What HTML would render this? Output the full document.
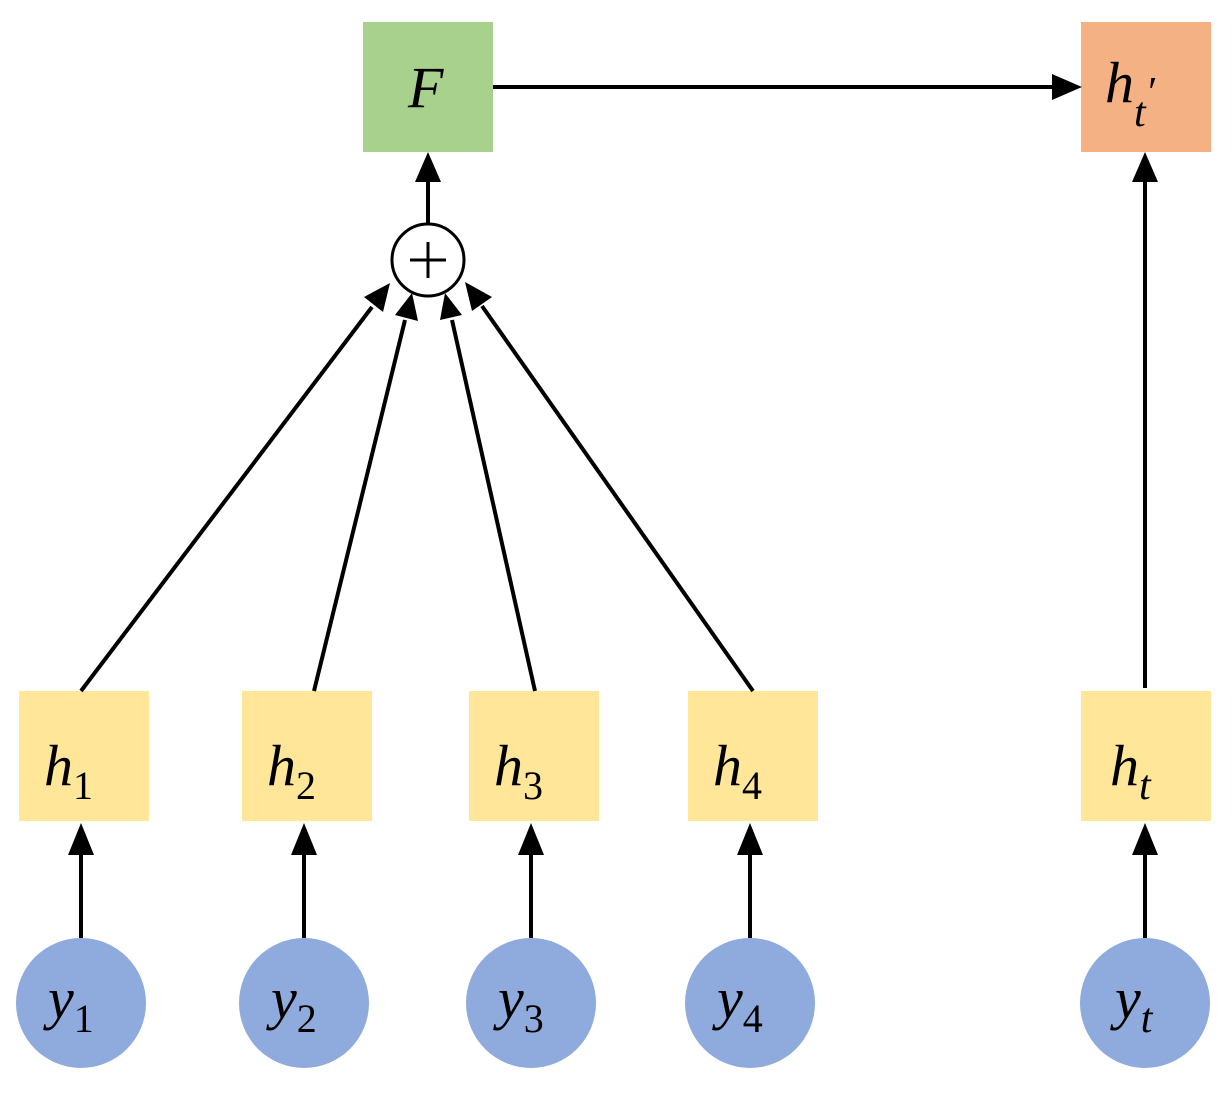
<!DOCTYPE html>
<html><head><style>html,body{margin:0;padding:0;background:#fff}</style></head>
<body>
<svg width="1232" height="1095" viewBox="0 0 1232 1095" xmlns="http://www.w3.org/2000/svg" font-family="Liberation Serif, serif">
<defs>
<marker id="a" markerWidth="10" markerHeight="10" refX="9" refY="5" orient="auto" markerUnits="userSpaceOnUse" viewBox="0 0 10 10">
</marker>
</defs>
<rect x="363" y="22" width="130" height="130" fill="#a9d18e"/>
<rect x="1081" y="22" width="130" height="130" fill="#f4b183"/>
<g fill="#ffe699">
<rect x="19" y="691" width="130" height="130"/>
<rect x="242" y="691" width="130" height="130"/>
<rect x="469" y="691" width="130" height="130"/>
<rect x="688" y="691" width="130" height="130"/>
<rect x="1081" y="691" width="130" height="130"/>
</g>
<g fill="#8faadc">
<circle cx="81" cy="1003" r="65"/>
<circle cx="304" cy="1003" r="65"/>
<circle cx="531" cy="1003" r="65"/>
<circle cx="750" cy="1003" r="65"/>
<circle cx="1145" cy="1003" r="65"/>
</g>
<g stroke="#000" stroke-width="4" fill="none">
<line x1="81" y1="938" x2="81" y2="855"/>
<line x1="304" y1="938" x2="304" y2="855"/>
<line x1="531" y1="938" x2="531" y2="855"/>
<line x1="750" y1="938" x2="750" y2="855"/>
<line x1="1145" y1="938" x2="1145" y2="855"/>
<line x1="1145" y1="688" x2="1145" y2="180"/>
<line x1="493" y1="87" x2="1055" y2="87"/>
<line x1="428" y1="224" x2="428" y2="180"/>
<line x1="81" y1="691" x2="372" y2="307"/>
<line x1="314" y1="691" x2="405" y2="320"/>
<line x1="535" y1="691" x2="452" y2="320"/>
<line x1="753" y1="691" x2="482" y2="306"/>
<circle cx="428" cy="260" r="36" stroke-width="3" fill="#fff"/>
<line x1="410" y1="260" x2="446" y2="260" stroke-width="3"/>
<line x1="428" y1="242" x2="428" y2="278" stroke-width="3"/>
</g>
<g fill="#000">
<polygon points="81,823 68,855 94,855"/>
<polygon points="304,823 291,855 317,855"/>
<polygon points="531,823 518,855 544,855"/>
<polygon points="750,823 737,855 763,855"/>
<polygon points="1145,823 1132,855 1158,855"/>
<polygon points="1145,152 1132,182 1158,182"/>
<polygon points="428,152 415,182 441,182"/>
<polygon points="1082,87 1052,74 1052,100"/>
<!-- diagonal heads -->
<polygon points="390,283 364,297 383,312"/>
<polygon points="412,293 395,315 418,321"/>
<polygon points="445,293 440,320 462,315"/>
<polygon points="465,282 472,311 492,297"/>
</g>
<g font-style="italic" font-size="58" fill="#000">
<text x="408" y="107">F</text>
<text x="1105" y="102">h<tspan font-size="42" dy="24">t</tspan><tspan font-size="42" dy="-20">′</tspan></text>
<text x="44" y="785">h<tspan font-size="40" font-style="normal" dy="14">1</tspan></text>
<text x="267" y="785">h<tspan font-size="40" font-style="normal" dy="14">2</tspan></text>
<text x="494" y="785">h<tspan font-size="40" font-style="normal" dy="14">3</tspan></text>
<text x="713" y="785">h<tspan font-size="40" font-style="normal" dy="14">4</tspan></text>
<text x="1110" y="785">h<tspan font-size="42" dy="14">t</tspan></text>
<text x="48" y="1018">y<tspan font-size="40" font-style="normal" dy="14">1</tspan></text>
<text x="271" y="1018">y<tspan font-size="40" font-style="normal" dy="14">2</tspan></text>
<text x="498" y="1018">y<tspan font-size="40" font-style="normal" dy="14">3</tspan></text>
<text x="717" y="1018">y<tspan font-size="40" font-style="normal" dy="14">4</tspan></text>
<text x="1115" y="1018">y<tspan font-size="42" dy="14">t</tspan></text>
</g>
</svg>
</body></html>
